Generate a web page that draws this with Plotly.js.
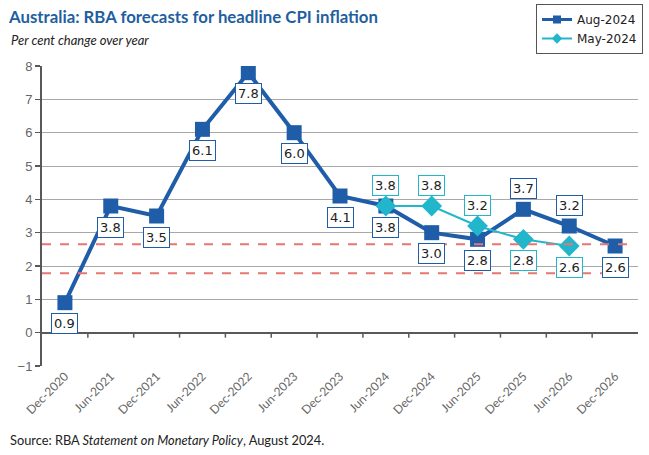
<!DOCTYPE html>
<html>
<head>
<meta charset="utf-8">
<script src="https://cdn.plot.ly/plotly-3.0.1.min.js"></script>
<style>html,body{margin:0;padding:0;background:#fff;}#chart{width:649px;height:455px;}</style>
</head>
<body>
<div id="chart"></div>
<script>
// ---- data ----
const categories = ["Dec-2020","Jun-2021","Dec-2021","Jun-2022","Dec-2022","Jun-2023","Dec-2023","Jun-2024","Dec-2024","Jun-2025","Dec-2025","Jun-2026","Dec-2026"];
const aug2024 = [0.9, 3.8, 3.5, 6.1, 7.8, 6.0, 4.1, 3.8, 3.0, 2.8, 3.7, 3.2, 2.6];
const may2024 = [null, null, null, null, null, null, null, 3.8, 3.8, 3.2, 2.8, 2.6, null];
const augLabelSide = ["below","below","below","below","below","below","below","below","below","below","above","above","below"];
const mayLabelSide = [null,null,null,null,null,null,null,"above","above","above","below","below",null];
const bandLevels = [2.65, 1.78];
const yTicks = [-1,0,1,2,3,4,5,6,7,8];

const AUG = "#1F5DA8", MAY = "#22B6CC", RED = "#E87572";
const W = 649, H = 455, L = 42, R = 11, T = 66, B = 89;
const pw = W - L - R, ph = H - T - B;
const px2x = p => (p - L) / pw;
const py2y = p => (H - B - p) / ph;

const traces = [
  {x: categories, y: aug2024, type: "scatter", mode: "lines+markers", name: "Aug-2024", showlegend: false,
   line: {color: AUG, width: 4}, marker: {symbol: "square", size: 15, color: AUG}},
  {x: categories, y: may2024, type: "scatter", mode: "lines+markers", name: "May-2024", showlegend: false,
   line: {color: MAY, width: 2}, marker: {symbol: "diamond", size: 16, color: MAY}},
  {x: [null], y: [null], type: "scatter", mode: "lines+markers", name: "Aug-2024",
   line: {color: AUG, width: 3}, marker: {symbol: "square", size: 8, color: AUG}},
  {x: [null], y: [null], type: "scatter", mode: "lines+markers", name: "May-2024",
   line: {color: MAY, width: 2}, marker: {symbol: "diamond", size: 8, color: MAY}}
];

const annotations = [];
function addLabels(vals, sides, color) {
  vals.forEach((v, i) => {
    if (v === null) return;
    annotations.push({x: categories[i], y: v, xref: "x", yref: "y", text: v.toFixed(1),
      showarrow: false, yshift: sides[i] === "above" ? 21 : -21,
      font: {family: "DejaVu Sans", size: 13, color: "#222"},
      bgcolor: "#fff", bordercolor: color, borderwidth: 1, borderpad: 2});
  });
}
addLabels(aug2024, augLabelSide, AUG);
addLabels(may2024, mayLabelSide, MAY);

annotations.push({xref: "paper", yref: "paper", x: px2x(9), y: py2y(40), xanchor: "left", yanchor: "middle",
  text: "<i>Per cent change over year</i>", showarrow: false,
  font: {family: "Lato", size: 13, color: "#222"}});
annotations.push({xref: "paper", yref: "paper", x: px2x(8), y: py2y(440), xanchor: "left", yanchor: "middle",
  text: "Source: RBA <i>Statement on Monetary Policy</i>, August 2024.", showarrow: false,
  font: {family: "Lato", size: 12.8, color: "#222"}});

const shapes = [];
shapes.push({type: "line", xref: "x", yref: "y", x0: -0.5, x1: 12.45, y0: bandLevels[0], y1: bandLevels[0],
  line: {color: RED, width: 2, dash: "dash"}});
shapes.push({type: "line", xref: "x", yref: "y", x0: -0.5, x1: 12.25, y0: bandLevels[1], y1: bandLevels[1],
  line: {color: RED, width: 2, dash: "dash"}});
for (let i = 0; i < categories.length - 1; i++) {
  shapes.push({type: "line", xref: "x", yref: "y", x0: i + 0.5, x1: i + 0.5, ysizemode: "pixel", yanchor: 0, y0: 0, y1: -5,
    line: {color: "#595959", width: 1.5}});
}

const layout = {
  width: W, height: H,
  margin: {l: L, r: R, t: T, b: B, autoexpand: false},
  paper_bgcolor: "#fff", plot_bgcolor: "#fff",
  title: {text: "<b>Australia: RBA forecasts for headline CPI inflation</b>", x: 9 / W, xanchor: "left", xref: "container",
    y: 1 - 17 / H, yanchor: "middle", yref: "container",
    font: {family: "Lato", size: 16.8, color: "#1F5FA0"}},
  xaxis: {type: "category", categoryorder: "array", categoryarray: categories, range: [-0.5, 12.5],
    showgrid: false, showline: false, ticks: "", tickangle: -45, zeroline: false,
    tickfont: {family: "Lato", size: 12, color: "#666"}},
  yaxis: {range: [-1, 8], tickvals: yTicks, showgrid: true, gridcolor: "#A8A8A8", gridwidth: 1,
    showline: true, linecolor: "#595959", linewidth: 2, ticks: "outside", ticklen: 5, tickcolor: "#595959", tickwidth: 1.5,
    zeroline: true, zerolinecolor: "#595959", zerolinewidth: 2,
    tickfont: {family: "Liberation Sans", size: 13, color: "#666"}},
  legend: {xref: "paper", yref: "paper", x: px2x(643), y: py2y(4), xanchor: "right", yanchor: "top",
    bgcolor: "#fff", bordercolor: "#555", borderwidth: 1, font: {family: "DejaVu Sans", size: 12, color: "#222"},
    itemwidth: 30, tracegroupgap: 0},
  showlegend: true,
  annotations: annotations,
  shapes: shapes
};

Plotly.newPlot("chart", traces, layout, {displayModeBar: false, staticPlot: true});
</script>
</body>
</html>
